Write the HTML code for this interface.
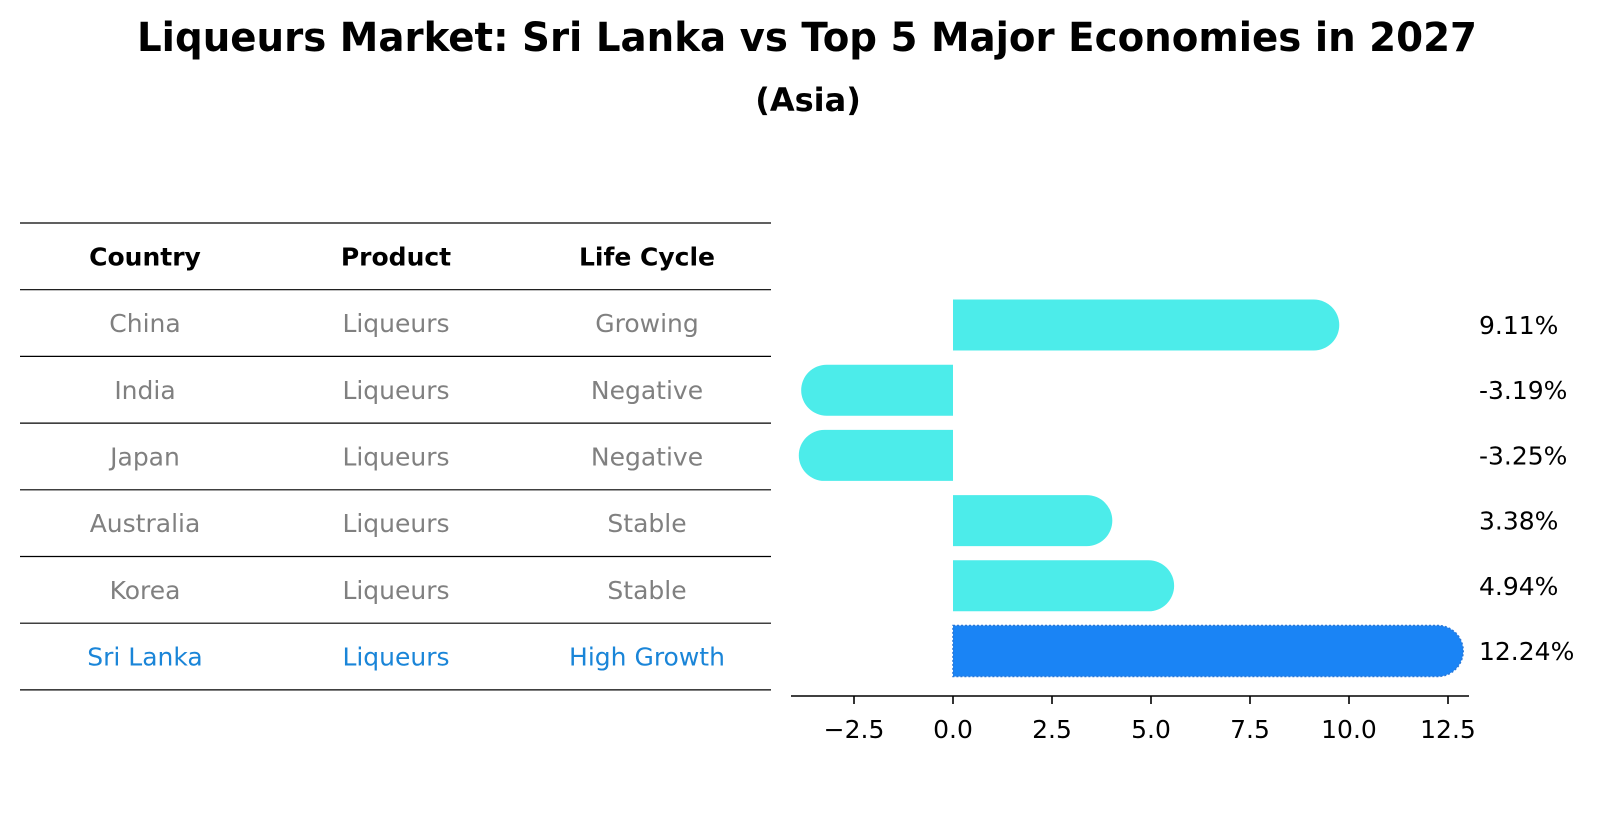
<!DOCTYPE html>
<html>
<head>
<meta charset="utf-8">
<style>
  html,body{margin:0;padding:0;background:#fff;}
  svg{display:block;font-family:"DejaVu Sans","Liberation Sans",sans-serif;}
</style>
</head>
<body>
<svg id="chart" width="1604" height="823" viewBox="0 0 1604 823" xmlns="http://www.w3.org/2000/svg">
  <text x="807" y="51" text-anchor="middle" font-weight="bold" font-size="40" textLength="1340" lengthAdjust="spacingAndGlyphs">Liqueurs Market: Sri Lanka vs Top 5 Major Economies in 2027</text>
  <text x="808" y="111" text-anchor="middle" font-weight="bold" font-size="32">(Asia)</text>
  <g id="table"></g>
  <g id="bars"></g>
</svg>
<script>
const countries = ["China","India","Japan","Australia","Korea","Sri Lanka"];
const products = ["Liqueurs","Liqueurs","Liqueurs","Liqueurs","Liqueurs","Liqueurs"];
const lifeCycles = ["Growing","Negative","Negative","Stable","Stable","High Growth"];
const growthValues = [9.11,-3.19,-3.25,3.38,4.94,12.24];
const tickValues = [-2.5,0,2.5,5,7.5,10,12.5];
const tickLabels = ["\u22122.5","0.0","2.5","5.0","7.5","10.0","12.5"];
const headers = ["Country","Product","Life Cycle"];

const NS = "http://www.w3.org/2000/svg";
function mk(tag, attrs, parent){
  const e = document.createElementNS(NS, tag);
  for (const k in attrs) e.setAttribute(k, attrs[k]);
  parent.appendChild(e);
  return e;
}

// ---- table ----
const tbl = document.getElementById('table');
const tX0 = 20, tX1 = 771, tY0 = 223, rowH = 66.7;
const colX = [145, 396, 647];
for (let i = 0; i <= countries.length + 1; i++) {
  const ln = mk('line', {x1:tX0, x2:tX1, y1:tY0 + i*rowH, y2:tY0 + i*rowH, stroke:'#000', 'stroke-width':1.2}, tbl);
  
  
}
headers.forEach((h, j) => {
  const t = mk('text', {x:colX[j], y:tY0 + rowH/2 + 9, 'text-anchor':'middle', 'font-size':25, 'font-weight':'bold', fill:'#000'}, tbl);
  t.textContent = h;
  
  
});
countries.forEach((c, i) => {
  const y = tY0 + (i+1)*rowH + rowH/2 + 9;
  const col = c === "Sri Lanka" ? '#1a85d8' : '#808080';
  [c, products[i], lifeCycles[i]].forEach((v, j) => {
    const t = mk('text', {x:colX[j], y:y, 'text-anchor':'middle', 'font-size':25, fill:col}, tbl);
    t.textContent = v;
    
    
  });
});

// ---- bar chart ----
const g = document.getElementById('bars');
const x0px = 953, unit = 39.6;
function xs(v){ return x0px + v*unit; }
const barY0 = 325, barStep = 65.2, barH = 51, r = barH/2;
function ys(i){ return barY0 + i*barStep; }

growthValues.forEach((v, i) => {
  const cy = ys(i), top = cy - r, bot = cy + r;
  const xe = xs(v), xz = xs(0);
  let d;
  if (v >= 0) {
    d = `M${xz},${top} L${xe},${top} A${r},${r} 0 0 1 ${xe},${bot} L${xz},${bot} Z`;
  } else {
    d = `M${xz},${top} L${xe},${top} A${r},${r} 0 0 0 ${xe},${bot} L${xz},${bot} Z`;
  }
  const isSL = countries[i] === "Sri Lanka";
  const p = mk('path', {d:d, fill: isSL ? '#1a84f5' : '#4cecea'}, g);
  if (isSL) { p.setAttribute('stroke', '#2a78d8'); p.setAttribute('stroke-width', '1.5'); p.setAttribute('stroke-dasharray', '2,2'); }
  
  
  const t = mk('text', {x:1479, y:cy + 9, 'font-size':25, fill:'#000'}, g);
  t.textContent = v.toFixed(2) + '%';
  
  
});

// axis
const axisY = 696;
const ax = mk('line', {x1:791, x2:1469, y1:axisY, y2:axisY, stroke:'#000', 'stroke-width':1.6}, g);


tickValues.forEach((v, i) => {
  const tk = mk('line', {x1:xs(v), x2:xs(v), y1:axisY, y2:axisY + 8, stroke:'#000', 'stroke-width':1.6}, g);
  
  
  const tl = mk('text', {x:xs(v), y:axisY + 42, 'text-anchor':'middle', 'font-size':25, fill:'#000'}, g);
  tl.textContent = tickLabels[i];
  
  
});
</script>
</body>
</html>
